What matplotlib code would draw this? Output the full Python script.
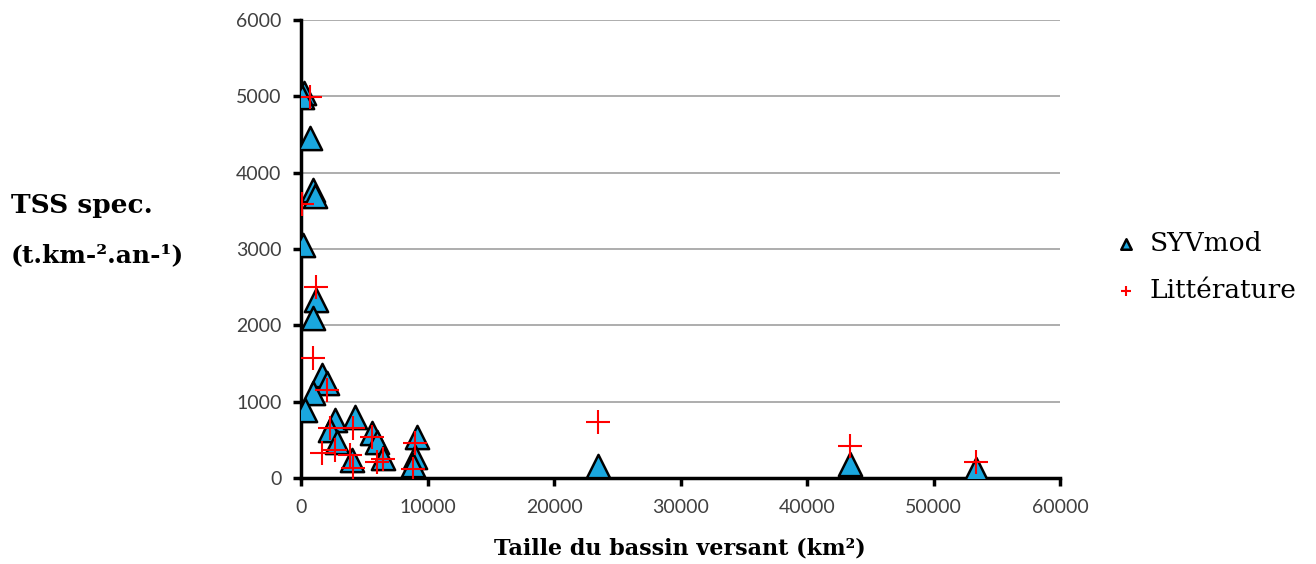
import matplotlib.pyplot as plt

# SYVmod (modelled) points
syv_x = [200, 100, 700, 950, 1100, 150, 1200, 950, 1700, 2050, 950, 300,
         2700, 2300, 2850, 4250, 4000, 5600, 6000, 6500, 9150, 9000, 8850,
         23450, 43400, 53350]
syv_y = [5050, 4990, 4450, 3770, 3700, 3050, 2330, 2100, 1350, 1245, 1110, 890,
         760, 630, 470, 800, 240, 590, 470, 260, 540, 280, 170,
         160, 180, 120]

# Litterature points
lit_x = [700, 100, 1200, 950, 2050, 2300, 1650, 2700, 4100, 3850, 4100,
         5600, 6000, 6500, 9000, 8850, 23450, 43400, 53350]
lit_y = [4990, 3590, 2500, 1570, 1150, 650, 330, 370, 650, 300, 130,
         540, 210, 250, 460, 120, 730, 420, 210]

x_ticks = [0, 10000, 20000, 30000, 40000, 50000, 60000]
y_ticks = [0, 1000, 2000, 3000, 4000, 5000, 6000]

fig = plt.figure(figsize=(13.16, 5.64), dpi=100)
ax = fig.add_axes([0.2287, 0.1525, 0.577, 0.812])

ax.scatter(syv_x, syv_y, marker='^', s=280, c='#1AA7DF', edgecolors='black',
           linewidths=1.8, zorder=3, label='SYVmod')
ax.scatter(lit_x, lit_y, marker='+', s=300, c='red', linewidths=1.5,
           zorder=4, label='Littérature')

ax.set_xlim(0, 60000)
ax.set_ylim(0, 6000)
ax.set_xticks(x_ticks)
ax.set_yticks(y_ticks)
ax.yaxis.grid(True, color='#a0a0a0', linewidth=1.2)
ax.set_axisbelow(True)
for s in ['top', 'right']:
    ax.spines[s].set_visible(False)
for s in ['left', 'bottom']:
    ax.spines[s].set_linewidth(2.5)
ax.tick_params(direction='out', width=2.5, length=6, labelsize=14,
               colors='black', labelcolor='#404040')
ax.tick_params(axis='x', pad=9)
ax.tick_params(axis='y', pad=8)
for lab in ax.get_xticklabels() + ax.get_yticklabels():
    lab.set_family('Lato')

fig.text(0.008, 0.635, 'TSS spec.', fontsize=19, fontweight='bold',
         family='DejaVu Serif', va='center', ha='left')
fig.text(0.008, 0.548, '(t.km-².an-¹)', fontsize=18, fontweight='bold',
         family='DejaVu Serif', va='center', ha='left')
fig.text(0.517, 0.008, 'Taille du bassin versant (km²)', fontsize=16,
         fontweight='bold', family='DejaVu Serif', ha='center', va='bottom')

leg = fig.legend(loc='center left', bbox_to_anchor=(0.8465, 0.5266), frameon=False,
                 prop={'family': 'DejaVu Serif', 'size': 19},
                 handlelength=0.9, handletextpad=0.45, labelspacing=0.85,
                 borderpad=0, borderaxespad=0, markerscale=0.45)

fig.savefig('out.png', dpi=100)
